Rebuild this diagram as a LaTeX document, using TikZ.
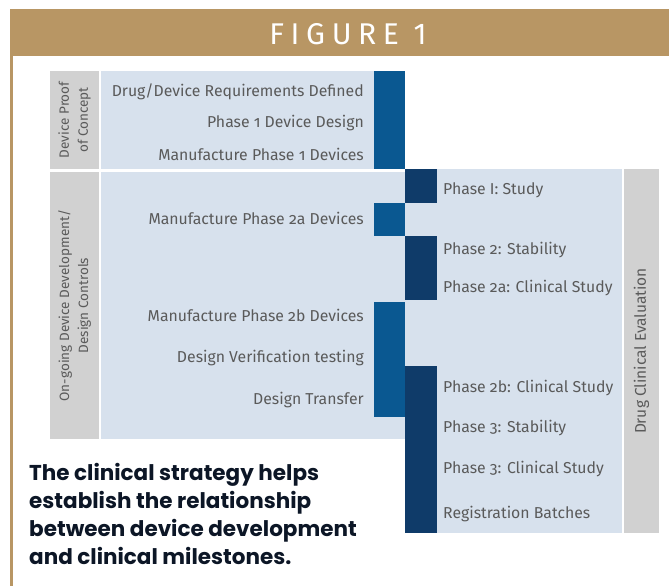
\documentclass[tikz,border=0pt]{standalone}
\usepackage{fontspec}
\setmainfont{Fira Sans}[Numbers=OldStyle]
\newfontfamily\bannerfont{Fira Sans}[LetterSpace=22]
\newfontfamily\notefont{Poppins}
\usetikzlibrary{positioning}
\definecolor{figGold}{RGB}{184,150,100}
\definecolor{figPale}{RGB}{215,225,237}
\definecolor{figGrey}{RGB}{209,209,209}
\definecolor{figBlue}{RGB}{10,88,145}
\definecolor{figNavy}{RGB}{15,59,105}
\definecolor{figText}{RGB}{90,90,90}
\definecolor{figInk}{RGB}{12,22,38}

\begin{document}
\begin{tikzpicture}[x=1pt, y=-1pt,
    block/.style={inner sep=0pt, outer sep=0pt, anchor=north west},
    tagbox/.style={block, fill=figGrey, minimum width=49pt},
    panel/.style={block, fill=figPale},
    devbar/.style={block, fill=figBlue, minimum width=31pt},
    trialbar/.style={block, fill=figNavy, minimum width=32pt},
    tagtext/.style={rotate=90, align=center, text=figText,
      font=\fontsize{13.5}{19}\selectfont},
    task/.style={inner sep=0pt, anchor=base east, text=figText,
      font=\fontsize{15.8}{18}\selectfont},
    trial/.style={inner sep=0pt, anchor=base west, text=figText,
      font=\fontsize{15.8}{18}\selectfont}
  ]
    \useasboundingbox (0,0) rectangle (669,586);

    \node[block, fill=figGold, minimum width=659pt, minimum height=47pt] (banner) at (10,9) {};
    \node[text=white, font=\bannerfont\fontsize{30}{31}\selectfont] (title) at (348,34) {FIGURE 1};
    \fill[figGold] (10,56) rectangle (13,586);

    \node[tagbox, minimum height=98pt] (conceptTag) at (50,71) {};
    \node[panel, minimum width=273pt, minimum height=98pt] (conceptPanel) at (101,71) {};
    \node[devbar, minimum height=98pt] (conceptBar) at (374,71) {};

    \node[tagbox, minimum height=267pt] (devTag) at (50,172) {};
    \node[panel, minimum width=304pt, minimum height=267pt] (devPanel) at (101,172) {};
    \node[devbar, minimum height=33pt] (bar2a) at (374,203) {};
    \node[devbar, minimum height=115pt] (bar2b) at (374,302) {};

    \node[panel, minimum width=217pt, minimum height=364pt] (clinPanel) at (405,169) {};
    \node[tagbox, minimum width=35pt, minimum height=364pt, right=2pt of clinPanel.north east, anchor=north west] (clinTag) {};
    \node[trialbar, minimum height=34pt] (barP1) at (405,169) {};
    \node[trialbar, minimum height=64pt] (barP2) at (405,236) {};
    \node[trialbar, minimum height=167pt] (barP3) at (405,366) {};

    \node[tagtext] (conceptLabel) at (conceptTag.center) {Device Proof\\of Concept};
    \node[tagtext] (devLabel) at (devTag.center) {On-going Device Development/\\Design Controls};
    \node[tagtext, font=\fontsize{15.5}{17}\selectfont] (clinLabel) at (clinTag.center) {Drug Clinical Evaluation};

    \node[task] (reqs) at (364,96) {Drug/Device Requirements Defined};
    \node[task] (design1) at (364,127) {Phase 1 Device Design};
    \node[task] (make1) at (364,160) {Manufacture Phase 1 Devices};
    \node[task] (make2a) at (364,224) {Manufacture Phase 2a Devices};
    \node[task] (make2b) at (364,321) {Manufacture Phase 2b Devices};
    \node[task] (verify) at (364,362) {Design Verification testing};
    \node[task] (transfer) at (364,404) {Design Transfer};

    \node[trial] (study1) at (443,194) {Phase I: Study};
    \node[trial] (stab2) at (443,254) {Phase 2: Stability};
    \node[trial] (study2a) at (443,292) {Phase 2a: Clinical Study};
    \node[trial] (study2b) at (443,392) {Phase 2b: Clinical Study};
    \node[trial] (stab3) at (443,432) {Phase 3: Stability};
    \node[trial] (study3) at (443,473) {Phase 3: Clinical Study};
    \node[trial] (batches) at (443,518) {Registration Batches};

    \node[inner sep=0pt, anchor=north west, align=left, text=figInk,
      font=\notefont\bfseries\fontsize{21.5}{28}\selectfont] (note) at (29,463)
      {The clinical strategy helps\\establish the relationship\\between device development\\and clinical milestones.};
  \end{tikzpicture}
\end{document}
